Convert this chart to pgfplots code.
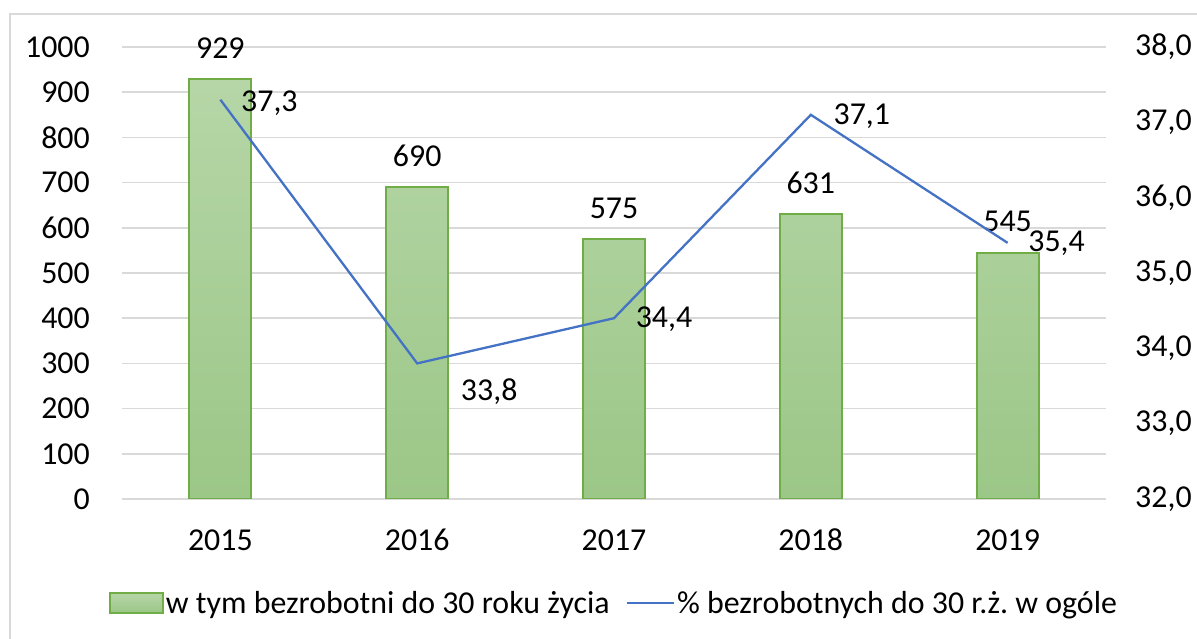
\documentclass[border=0pt]{standalone}
\usepackage{fontspec}
\setmainfont{Carlito}
\usepackage{pgfplots}
\pgfplotsset{compat=1.18}
\usepackage{pgfplotstable}
\definecolor{gridc}{HTML}{D9D9D9}
\definecolor{barline}{HTML}{70AD47}
\definecolor{bartop}{RGB}{182,214,167}
\definecolor{barbot}{RGB}{155,199,135}
\definecolor{linec}{HTML}{4472C4}

\pgfplotstableread{
x y
0 929
1 690
2 575
3 631
4 545
}\bardata
\pgfplotstableread{
x y lab dx dy
0 37.3 37,3 49 -3
1 33.8 33,8 72 -28
2 34.4 34,4 50 -1
3 37.1 37,1 51 -1
4 35.4 35,4 49 0
}\linedata

\newcommand{\fs}{\fontsize{32}{38}\selectfont}
\pgfplotsset{/pgf/number format/assume math mode=true}

\begin{document}
\frenchspacing
\begin{tikzpicture}[x=1bp,y=1bp]
\path[use as bounding box] (0,0) rectangle (1197,639);
\draw[gridc, line width=2bp] (10,-5) -- (10,625) -- (1210,625);
\begin{axis}[
  at={(122bp,140bp)}, anchor=south west,
  scale only axis, width=984bp, height=452bp,
  xmin=-0.5, xmax=4.5, ymin=0, ymax=1000,
  xtick={0,1,2,3,4}, xticklabels={2015,2016,2017,2018,2019},
  ytick distance=100,
  ybar, bar width=62bp, bar shift=0pt,
  axis line style={draw=none}, major tick length=0pt,
  ymajorgrids, grid style={gridc, line width=1.5bp},
  ticklabel style={font=\fs, text=black, inner sep=0pt},
  xticklabel style={anchor=center, yshift=-41bp},
  yticklabel style={anchor=east, xshift=-32bp, /pgf/number format/1000 sep={}},
]
\addplot[draw=barline, line width=2bp, top color=bartop, bottom color=barbot,
  nodes near coords,
  nodes near coords style={font=\fs, text=black, anchor=center, yshift=31bp, /pgf/number format/1000 sep={}}]
  table[x=x,y=y]{\bardata};
\end{axis}
\begin{axis}[
  at={(122bp,140bp)}, anchor=south west,
  scale only axis, width=984bp, height=452bp,
  xmin=-0.5, xmax=4.5, ymin=32, ymax=38,
  ytick distance=1,
  axis x line=none, axis y line*=right,
  axis line style={draw=none}, major tick length=0pt,
  yticklabel style={font=\fs, text=black, inner sep=0pt, anchor=west, xshift=29bp,
    /pgf/number format/.cd, fixed, fixed zerofill, precision=1, use comma},
  legend columns=2,
  legend cell align=left,
  legend style={at={(0.5,-0.23)}, anchor=center, draw=none, font=\fs, text=black,
    /tikz/every even column/.append style={column sep=14bp}},
]
\addlegendimage{legend image code/.code={\draw[barline, line width=2bp, top color=bartop, bottom color=barbot] (0bp,-10bp) rectangle (53bp,10bp);}}
\addlegendentry{w tym bezrobotni do 30 roku życia}
\addplot[linec, line width=2.3bp, mark=none,
  point meta=explicit symbolic,
  visualization depends on=\thisrow{dx}\as\dx,
  visualization depends on=\thisrow{dy}\as\dy,
  nodes near coords,
  nodes near coords style={font=\fs, text=black, anchor=center, xshift={\dx*1bp}, yshift={\dy*1bp}},
  legend image code/.code={\draw[linec, line width=2.3bp] (0bp,0bp) -- (47bp,0bp);}]
  table[x=x, y=y, meta=lab]{\linedata};
\addlegendentry{\% bezrobotnych do 30 r.ż. w ogóle}
\end{axis}
\end{tikzpicture}
\end{document}
